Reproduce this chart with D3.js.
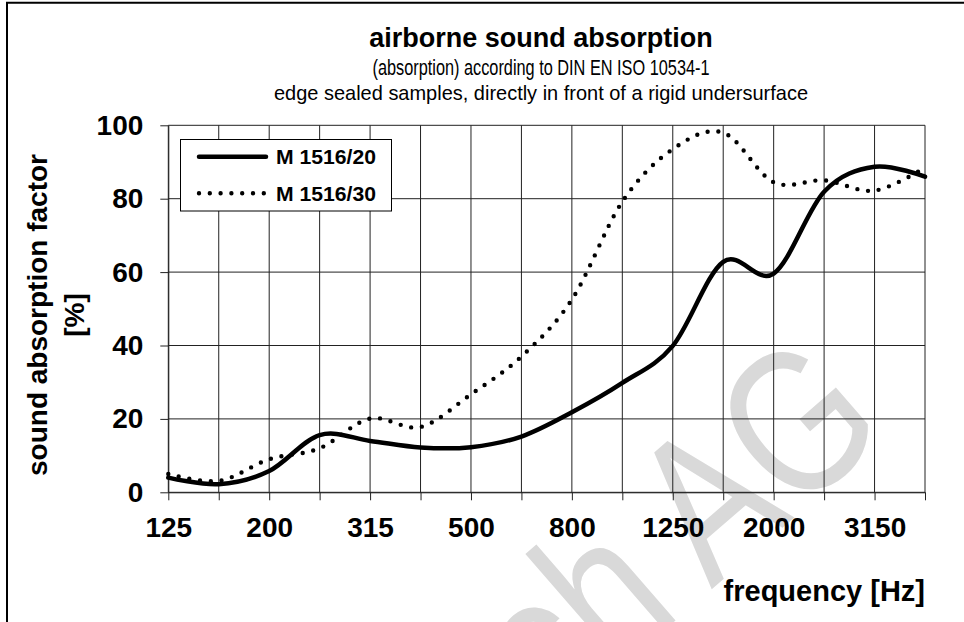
<!DOCTYPE html>
<html>
<head>
<meta charset="utf-8">
<script src="https://cdn.jsdelivr.net/npm/d3@7/dist/d3.min.js"></script>
<style>
    body { margin: 0; background: #fff; }
    text { font-family: "Liberation Sans", Arial, sans-serif; fill: #000; }
</style>
</head>
<body>
<div id="chart"></div>
<script>
// third-octave band centre frequencies [Hz]
const bands = [125, 160, 200, 250, 315, 400, 500, 630, 800, 1000, 1250, 1600, 2000, 2500, 3150, 4000];
// only every other band gets a label
const tickLabels = [125, 200, 315, 500, 800, 1250, 2000, 3150];
const yTicks = [0, 20, 40, 60, 80, 100];

// sound absorption factor [%] per band
const seriesNames = ["M 1516/20", "M 1516/30"];
const m1516_20 = [4.0, 2.2, 5.8, 15.6, 14.0, 12.2, 12.3, 15.2, 21.8, 29.8, 39.9, 62.8, 59.6, 81.9, 88.7, 86.0];
const m1516_30 = [5.0, 3.1, 9.0, 12.0, 20.1, 17.8, 26.7, 37.0, 52.5, 79.2, 93.5, 98.0, 84.5, 85.0, 82.2, 88.5];

(function () {
    const W = 964, H = 622;
    const margin = { top: 125.3, right: 39, bottom: 129.7, left: 168.3 },
        width = W - margin.left - margin.right,
        height = H - margin.top - margin.bottom;

    const svg = d3.select("#chart").append("svg")
        .attr("width", W)
        .attr("height", H);

    // watermark, sits behind everything
    svg.append("text")
        .attr("transform", "translate(552,728) rotate(-41)")
        .attr("textLength", 450).attr("lengthAdjust", "spacingAndGlyphs")
        .style("font-size", "205px")
        .style("fill", "#d9d9d9")
        .text("ch AG");

    // sheet frame (only top and left edges are inside the picture)
    svg.append("path")
        .attr("d", `M7,${H + 5}V2.7H${W + 5}`)
        .attr("fill", "none")
        .attr("stroke", "#000")
        .attr("stroke-width", 2);

    // titles
    svg.append("text")
        .attr("x", 541).attr("y", 47)
        .attr("text-anchor", "middle")
        .style("font-size", "27px").style("font-weight", "bold")
        .text("airborne sound absorption");
    svg.append("text")
        .attr("x", 541).attr("y", 75)
        .attr("text-anchor", "middle")
        .attr("textLength", 337).attr("lengthAdjust", "spacingAndGlyphs")
        .style("font-size", "22px")
        .text("(absorption) according to DIN EN ISO 10534-1");
    svg.append("text")
        .attr("x", 541).attr("y", 100)
        .attr("text-anchor", "middle")
        .attr("textLength", 534).attr("lengthAdjust", "spacingAndGlyphs")
        .style("font-size", "21px")
        .text("edge sealed samples, directly in front of a rigid undersurface");

    const g = svg.append("g")
        .attr("transform", `translate(${margin.left},${margin.top})`);

    const x = d3.scalePoint().domain(bands).range([0, width]);
    const y = d3.scaleLinear().domain([0, 100]).range([height, 0]);

    // grid
    g.append("g").selectAll("line")
        .data(bands)
        .join("line")
        .attr("x1", d => x(d)).attr("x2", d => x(d))
        .attr("y1", 0).attr("y2", height)
        .attr("stroke", "#222");
    g.append("g").selectAll("line")
        .data(yTicks)
        .join("line")
        .attr("x1", 0).attr("x2", width)
        .attr("y1", d => y(d)).attr("y2", d => y(d))
        .attr("stroke", "#222");

    // axes
    const xAxis = g.append("g")
        .attr("transform", `translate(0,${height})`)
        .call(d3.axisBottom(x)
            .tickSize(8).tickSizeOuter(0).tickPadding(17)
            .tickFormat(d => tickLabels.includes(d) ? d : ""));
    const yAxis = g.append("g")
        .call(d3.axisLeft(y)
            .tickValues(yTicks)
            .tickSize(8).tickSizeOuter(0).tickPadding(17));
    [xAxis, yAxis].forEach(a => {
        a.selectAll("path,line").attr("stroke", "#222");
        a.selectAll("text")
            .style("font-family", "\"Liberation Sans\", Arial, sans-serif")
            .style("font-size", "28px").style("font-weight", "bold")
            .attr("fill", "#000");
    });

    // axis titles
    svg.append("text")
        .attr("transform", "translate(47,315) rotate(-90)")
        .attr("text-anchor", "middle")
        .style("font-size", "28px").style("font-weight", "bold")
        .text("sound absorption factor");
    svg.append("text")
        .attr("transform", "translate(84,315) rotate(-90)")
        .attr("text-anchor", "middle")
        .style("font-size", "28px").style("font-weight", "bold")
        .text("[%]");
    svg.append("text")
        .attr("x", 925).attr("y", 601)
        .attr("text-anchor", "end")
        .style("font-size", "29px").style("font-weight", "bold")
        .text("frequency [Hz]");

    // curves
    const line = d3.line()
        .x((d, i) => x(bands[i]))
        .y(d => y(d))
        .curve(d3.curveCardinal.tension(0));

    g.append("path")
        .datum(m1516_30)
        .attr("fill", "none")
        .attr("stroke", "#000")
        .attr("stroke-width", 4.4)
        .attr("stroke-linecap", "round")
        .attr("stroke-dasharray", "0 10.8")
        .attr("d", line);
    g.append("path")
        .datum(m1516_20)
        .attr("fill", "none")
        .attr("stroke", "#000")
        .attr("stroke-width", 4.5)
        .attr("stroke-linecap", "round")
        .attr("d", line);

    // legend
    const legend = svg.append("g");
    legend.append("rect")
        .attr("x", 180.5).attr("y", 139.5)
        .attr("width", 211).attr("height", 71.5)
        .attr("fill", "#fff")
        .attr("stroke", "#000");
    const rows = legend.selectAll("g.row")
        .data(seriesNames)
        .join("g")
        .attr("class", "row")
        .attr("transform", (d, i) => `translate(0,${156.7 + i * 36.6})`);
    rows.append("line")
        .attr("x1", 199).attr("x2", 266)
        .attr("stroke", "#000")
        .attr("stroke-linecap", "round")
        .attr("stroke-width", (d, i) => i ? 4.4 : 4.5)
        .attr("stroke-dasharray", (d, i) => i ? "0 10.8" : null);
    rows.append("text")
        .attr("x", 276).attr("y", 7.3)
        .attr("textLength", 100).attr("lengthAdjust", "spacingAndGlyphs")
        .style("font-size", "20px").style("font-weight", "bold")
        .text(d => d);
})();
</script>
</body>
</html>
